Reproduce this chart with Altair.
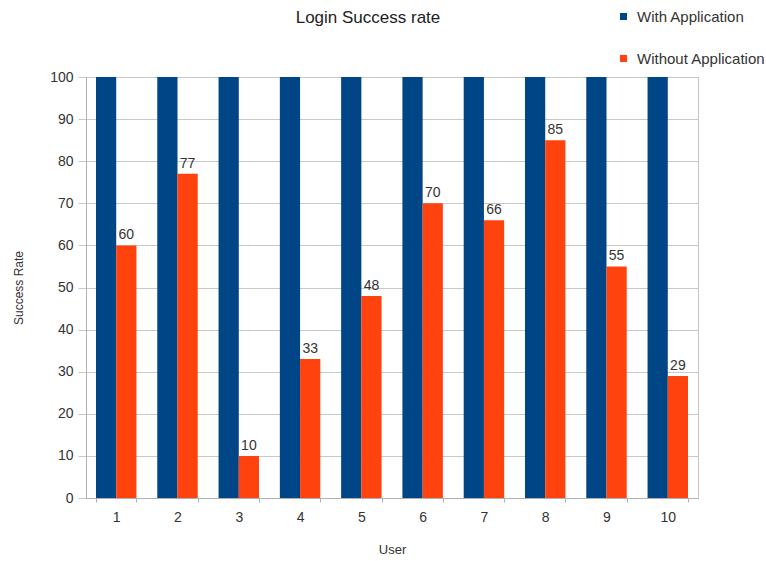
import altair as alt
import pandas as pd

users = ["1", "2", "3", "4", "5", "6", "7", "8", "9", "10"]
with_app = [100, 100, 100, 100, 100, 100, 100, 100, 100, 100]
without_app = [60, 77, 10, 33, 48, 70, 66, 85, 55, 29]
series = ["With Application", "Without Application"]
colors = ["#004586", "#ff420e"]

rows = []
for u, a, b in zip(users, with_app, without_app):
    rows.append({"user": u, "series": series[0], "value": a})
    rows.append({"user": u, "series": series[1], "value": b})
df = pd.DataFrame(rows)

FONT = "Liberation Sans"

x = alt.X("user:N", sort=users, title="User",
          scale=alt.Scale(paddingInner=0.34, paddingOuter=0.163),
          axis=alt.Axis(labelAngle=0, grid=False, tickBand="extent", tickSize=4,
                        labelPadding=8, titlePadding=19, domainColor="#b0b0b0",
                        tickColor="#b0b0b0", titleFontSize=13))
xo = alt.XOffset("series:N", sort=series, scale=alt.Scale(paddingInner=0, paddingOuter=0))
y = alt.Y("value:Q", title="Success Rate",
          scale=alt.Scale(domain=[0, 100], nice=False),
          axis=alt.Axis(values=list(range(0, 101, 10)), tickSize=8, labelPadding=5,
                        titlePadding=24, gridColor="#c8c8c8", tickColor="#c8c8c8",
                        domainColor="#b0b0b0", titleFontSize=12))

bars = alt.Chart(df).mark_bar().encode(
    x=x, xOffset=xo, y=y,
    color=alt.Color("series:N", sort=series,
                    scale=alt.Scale(domain=series, range=colors),
                    legend=alt.Legend(title=None, orient="none", legendX=530, legendY=-68,
                                      symbolType="square", symbolSize=50,
                                      rowPadding=26, labelFontSize=15, labelOffset=6,
                                      labelColor="#333333", labelFont=FONT)),
)

labels = alt.Chart(df).transform_filter(
    alt.datum.series == "Without Application"
).mark_text(baseline="bottom", dy=-3, fontSize=14, color="#333333", font=FONT).encode(
    x=x, xOffset=xo, y=y, text="value:Q"
)

chart = alt.layer(bars, labels).properties(
    width=612, height=421,
    title=alt.TitleParams("Login Success rate", fontSize=17, font=FONT,
                          fontWeight="normal", color="#222222", anchor="middle",
                          offset=-18, dx=-24),
    autosize=alt.AutoSizeParams(type="none"),
    padding={"left": 86, "top": 77, "right": 68, "bottom": 63},
    background="white",
).configure_view(stroke="#c8c8c8").configure_axis(
    labelFont=FONT, titleFont=FONT, labelFontSize=14,
    labelColor="#333333", titleColor="#333333", titleFontWeight="normal",
)

chart.save("out.html", embed_options={"renderer": "svg", "actions": False})
